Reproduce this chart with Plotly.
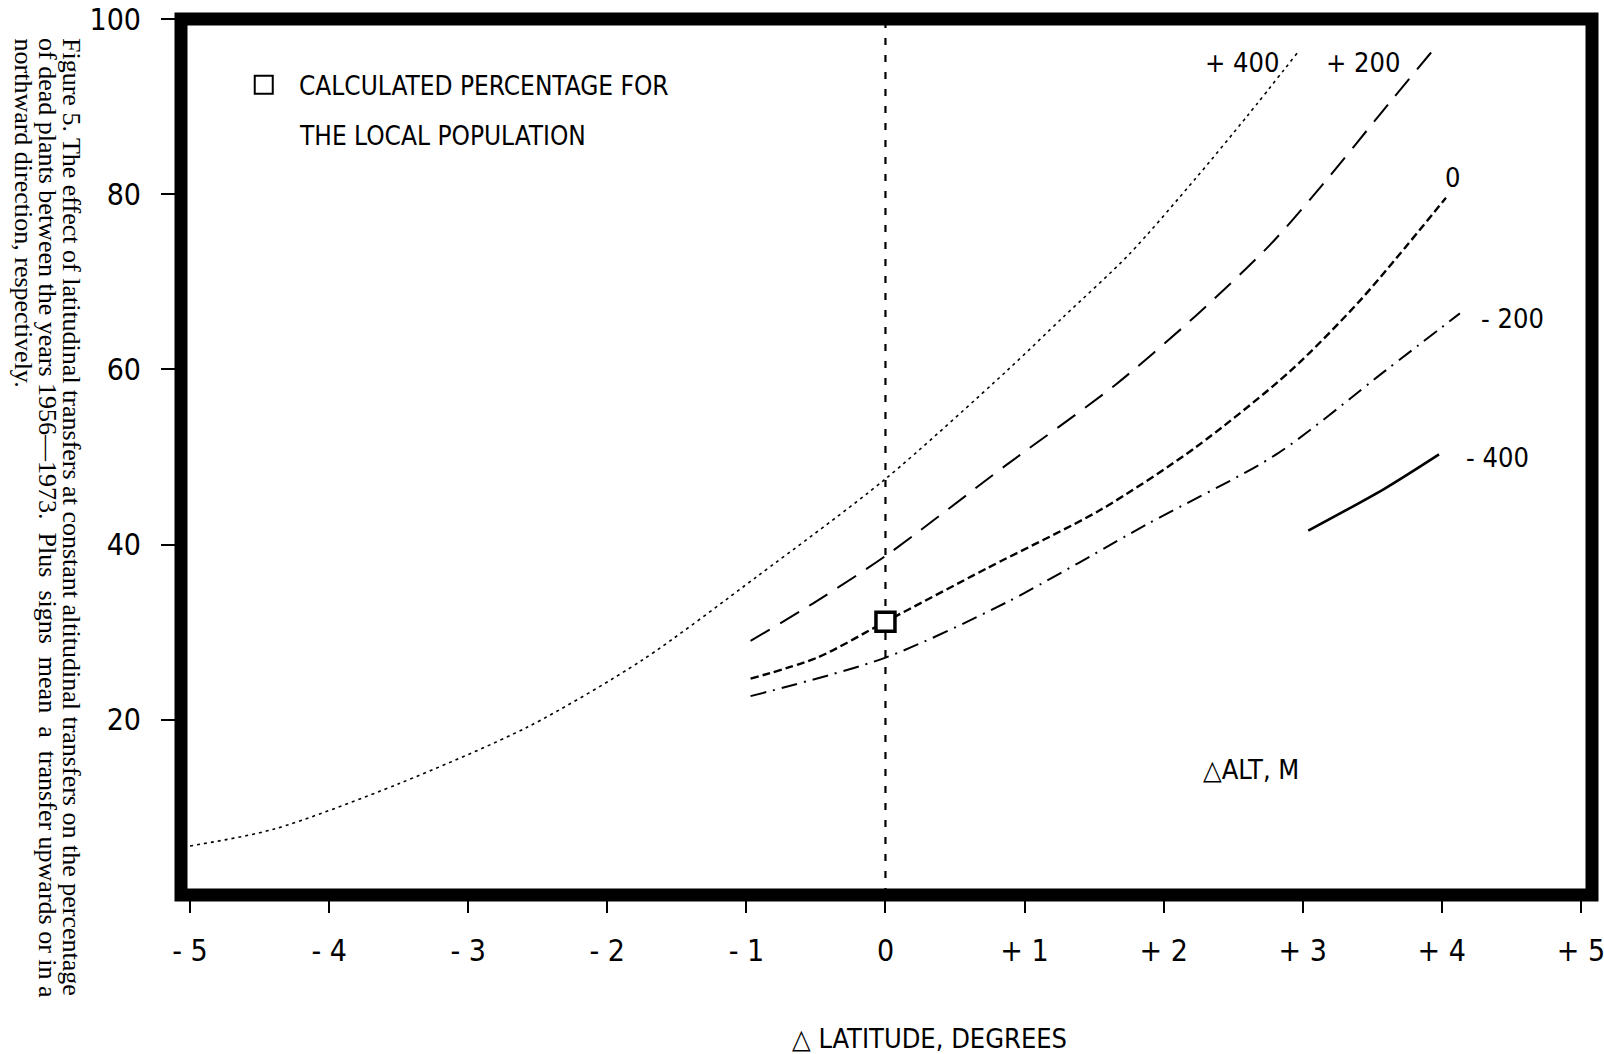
import plotly.graph_objects as go

# ---- data ----
alt_labels = ["+ 400", "+ 200", "0", "- 200", "- 400"]

lat_p400 = [-5.0, -4.4, -3.5, -2.57, -1.75, -0.92, 0.0, 0.87, 1.28, 1.75, 2.23, 2.6, 2.97]
pct_p400 = [5.6, 7.5, 12.7, 19.2, 26.8, 36.4, 47.5, 59.8, 66.0, 73.1, 81.8, 88.9, 96.3]

lat_p200 = [-0.97, -0.5, 0.0, 0.87, 1.65, 2.23, 2.77, 3.18, 3.55, 3.94]
pct_p200 = [29.0, 33.5, 38.7, 49.1, 58.2, 66.1, 74.3, 81.8, 89.0, 96.5]

lat_0 = [-0.97, -0.49, 0.0, 0.73, 1.55, 2.23, 2.91, 3.42, 4.03]
pct_0 = [24.7, 27.1, 31.2, 37.3, 44.0, 51.1, 59.8, 68.0, 79.6]

lat_m200 = [-0.97, 0.0, 0.87, 1.89, 2.81, 3.59, 4.13]
pct_m200 = [22.7, 27.1, 33.4, 42.4, 50.3, 59.8, 66.4]

lat_m400 = [3.04, 3.59, 3.98]
pct_m400 = [41.6, 46.4, 50.3]

local_lat = [0.0]
local_pct = [31.2]

x_tickvals = [-5, -4, -3, -2, -1, 0, 1, 2, 3, 4, 5]
x_ticktext = ["- 5", "- 4", "- 3", "- 2", "- 1", "0", "+ 1", "+ 2", "+ 3", "+ 4", "+ 5"]
y_tickvals = [20, 40, 60, 80, 100]
y_ticktext = ["20", "40", "60", "80", "100"]

# label anchor positions (data coords)
label_x = [2.56, 3.43, 4.08, 4.51, 4.40]
label_y = [95.0, 95.0, 81.9, 65.8, 50.0]

caption_lines = [
    "Figure 5. The effect of latitudinal transfers at constant altitudinal transfers on the percentage",
    "of dead plants between the years 1956\u20141973.  Plus  signs  mean  a  transfer upwards or in a",
    "northward direction, respectively.",
]
caption_x_px = [72, 48, 23]

NARROW = "Liberation Sans Narrow, DejaVu Sans Condensed, Arial Narrow, sans-serif"
SERIF = "Liberation Serif, Times New Roman, serif"

L, R, T, B = 181, 12, 19, 159
PW, PH = 1604 - L - R, 1054 - T - B

fig = go.Figure()

series = [
    (lat_p400, pct_p400, "3px,4px", 1.6),
    (lat_p200, pct_p200, "22px,12px", 2.0),
    (lat_0, pct_0, "8px,4px", 2.4),
    (lat_m200, pct_m200, "16px,7px,2px,7px", 2.0),
    (lat_m400, pct_m400, "solid", 2.6),
]
for (xs, ys, dash, w), name in zip(series, alt_labels):
    fig.add_trace(go.Scatter(x=xs, y=ys, mode="lines", name=name,
                             line=dict(color="black", width=w, dash=dash, shape="spline", smoothing=0.8),
                             showlegend=False, hoverinfo="skip"))

# vertical reference line at 0
fig.add_shape(type="line", xref="x", yref="paper", x0=0, x1=0, y0=0, y1=1,
              line=dict(color="black", width=2.2, dash="7px,10px"), layer="below")

fig.add_trace(go.Scatter(x=local_lat, y=local_pct, mode="markers", showlegend=False,
                         marker=dict(symbol="square", size=19, color="white",
                                     line=dict(color="black", width=3.5)),
                         hoverinfo="skip"))

# legend-like marker and text
fig.add_trace(go.Scatter(x=[-4.47], y=[92.5], mode="markers", showlegend=False,
                         marker=dict(symbol="square", size=18, color="white",
                                     line=dict(color="black", width=2)),
                         hoverinfo="skip"))
fig.add_annotation(x=-4.23, y=92.4, xref="x", yref="y", xanchor="left", yanchor="middle",
                   text="CALCULATED PERCENTAGE FOR", showarrow=False,
                   font=dict(family=NARROW, size=26, color="black"))
fig.add_annotation(x=-4.23, y=86.6, xref="x", yref="y", xanchor="left", yanchor="middle",
                   text="THE LOCAL POPULATION", showarrow=False,
                   font=dict(family=NARROW, size=26, color="black"))

for t, lx, ly in zip(alt_labels, label_x, label_y):
    fig.add_annotation(x=lx, y=ly, xref="x", yref="y", text=t, showarrow=False,
                       xanchor="center", yanchor="middle",
                       font=dict(family=NARROW, size=27, color="black"))

fig.add_annotation(x=2.63, y=14.3, xref="x", yref="y", text="\u25b3ALT, M", showarrow=False,
                   xanchor="center", yanchor="middle",
                   font=dict(family=NARROW, size=27, color="black"))

# x-axis title
fig.add_annotation(x=(929 - L) / PW, y=-(1038 - (T + PH)) / PH, xref="paper", yref="paper",
                   text="\u25b3 LATITUDE, DEGREES", showarrow=False, xanchor="center", yanchor="middle",
                   font=dict(family=NARROW, size=27, color="black"))

# rotated caption on the left (one annotation per line)
for line, px in zip(caption_lines, caption_x_px):
    fig.add_annotation(x=(px - L) / PW, y=1 - (36 - T) / PH, xref="paper", yref="paper",
                       text=line, showarrow=False, textangle=90, align="left",
                       xanchor="center", yanchor="top",
                       font=dict(family=SERIF, size=26, color="black"))

# thick frame
fig.add_shape(type="rect", xref="paper", yref="paper", x0=0, x1=1, y0=0, y1=1,
              line=dict(color="black", width=13), layer="above")

fig.update_layout(
    template="none",
    width=1604, height=1054,
    margin=dict(l=L, r=R, t=T, b=B, autoexpand=False),
    paper_bgcolor="white", plot_bgcolor="white",
    xaxis=dict(range=[-5.065, 5.08], showgrid=False, zeroline=False, showline=False,
               automargin=False, ticklabeloverflow="allow",
               tickmode="array", tickvals=x_tickvals, ticktext=x_ticktext,
               ticks="outside", ticklen=17, tickwidth=2, tickcolor="black",
               ticklabelstandoff=12,
               tickfont=dict(family=NARROW, size=30, color="black")),
    yaxis=dict(range=[0, 100], showgrid=False, zeroline=False, showline=False,
               automargin=False, ticklabeloverflow="allow",
               tickmode="array", tickvals=y_tickvals, ticktext=y_ticktext,
               ticks="outside", ticklen=19, tickwidth=2, tickcolor="black",
               ticklabelstandoff=14,
               tickfont=dict(family=NARROW, size=30, color="black")),
)

fig.write_html("out.html")
